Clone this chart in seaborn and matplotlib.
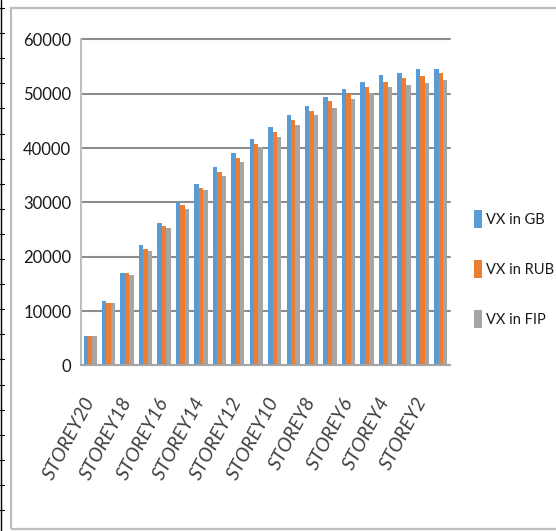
import matplotlib
matplotlib.use("Agg")
import matplotlib.pyplot as plt
from matplotlib.patches import Rectangle, Patch
from matplotlib.lines import Line2D
import seaborn as sns
import pandas as pd
import numpy as np

# Storey drift values, top storey first
storeys = [f"STOREY{n}" for n in range(20, 0, -1)]
vx_gb = [5400, 11800, 17000, 22200, 26150, 30050, 33400, 36450, 39100, 41700,
         43850, 46050, 47750, 49450, 50850, 52100, 53400, 53800, 54600, 54600]
vx_rub = [5400, 11400, 17000, 21400, 25700, 29600, 32600, 35600, 38250, 40800,
          42950, 45200, 46900, 48600, 49900, 51200, 52100, 52900, 53300, 53800]
vx_fip = [5400, 11400, 16600, 21000, 25250, 28750, 32250, 34800, 37400, 40250,
          42100, 44300, 46050, 47350, 49050, 50100, 51200, 51600, 52050, 52500]
series_names = ["VX in GB", "VX in RUB", "VX in FIP"]
colors = ["#5B9BD5", "#ED7D31", "#A5A5A5"]
y_ticks = [0, 10000, 20000, 30000, 40000, 50000, 60000]

df = pd.DataFrame({"storey": storeys, series_names[0]: vx_gb,
                   series_names[1]: vx_rub, series_names[2]: vx_fip})
long = df.melt(id_vars="storey", var_name="series", value_name="value")

sns.set_style("white")
plt.rcParams["font.family"] = ["Lato", "DejaVu Sans"]

W, H = 556, 531
fig = plt.figure(figsize=(W / 100, H / 100), dpi=100)
ax = fig.add_axes([81 / W, 1 - 365.3 / H, (450 - 81) / W, (365.3 - 39.5) / H])

sns.barplot(data=long, x="storey", y="value", hue="series", order=storeys,
            hue_order=series_names, palette=colors, saturation=1,
            width=0.72, gap=0, edgecolor="none", linewidth=0, ax=ax,
            legend=False)

ax.set_ylim(0, 60000)
ax.set_xlim(-0.5, len(storeys) - 0.5)
ax.set_xlabel("")
ax.set_ylabel("")

# horizontal gridlines
ax.set_yticks(y_ticks)
ax.set_yticklabels([str(v) for v in y_ticks], fontsize=12, color="#1A1A1A")
ax.yaxis.grid(True, color="#8C8C8C", linewidth=1.5)
for gl in ax.get_ygridlines():
    gl.set_clip_on(False)
ax.set_axisbelow(True)
ax.tick_params(axis="y", length=4, width=1.2, color="#8C8C8C", pad=3)

# category ticks at group boundaries, labels on every other storey
ax.set_xticks(np.arange(-0.5, len(storeys), 1.0), minor=True)
ax.set_xticks(np.arange(0, len(storeys), 2))
ax.set_xticklabels(storeys[::2], rotation=62, ha="right", va="center",
                   rotation_mode="anchor", fontsize=14, color="#404040",
                   style="italic")
ax.tick_params(axis="x", which="major", length=0, pad=24)
ax.tick_params(axis="x", which="minor", length=5, width=1.2, color="#A6A6A6")

for side in ["top", "right"]:
    ax.spines[side].set_visible(False)
ax.spines["left"].set_color("#BFBFBF")
ax.spines["left"].set_linewidth(1.5)
ax.spines["bottom"].set_color("#A6A6A6")
ax.spines["bottom"].set_linewidth(1.5)

handles = [Patch(facecolor=c, edgecolor="none") for c in colors]
fig.legend(handles, series_names, loc="center left",
           bbox_to_anchor=(474 / W, 1 - 269 / H), frameon=False,
           fontsize=10.5, handlelength=0.55, handleheight=1.5,
           handletextpad=0.3, labelspacing=2.2, labelcolor="#1A1A1A",
           borderaxespad=0, borderpad=0)

# chart area border
fig.add_artist(Rectangle((11 / W, 1 - 529 / H), (W + 10) / W, (529 - 8) / H,
                         transform=fig.transFigure, fill=False,
                         edgecolor="#BDBDBD", linewidth=1.6))

# sheet ruler along the left edge
fig.add_artist(Line2D([1 / W, 1 / W], [0, 1], transform=fig.transFigure,
                      color="black", linewidth=1.0))
for yy in np.arange(8, H, 25.1):
    fig.add_artist(Line2D([0, 4 / W], [1 - yy / H, 1 - yy / H],
                          transform=fig.transFigure, color="black",
                          linewidth=0.8))

fig.savefig("out.png", dpi=100, facecolor="white")
